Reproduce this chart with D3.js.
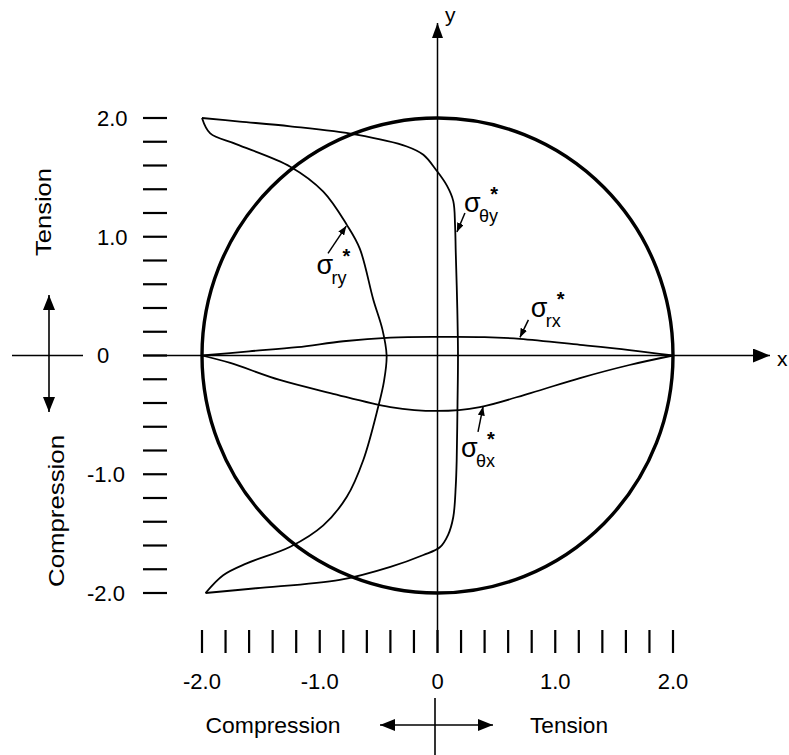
<!DOCTYPE html>
<html><head><meta charset="utf-8">
<script src="https://cdn.jsdelivr.net/npm/d3@7/dist/d3.min.js"></script>
<style>
body{margin:0;background:#fff}
svg{display:block}
text{font-family:"Liberation Sans",Arial,sans-serif;fill:#000}
</style>
</head><body>
<svg id="c" width="789" height="755"></svg>
<script>
// ---------- data ----------
const minorTicks = [-2.0,-1.8,-1.6,-1.4,-1.2,-1.0,-0.8,-0.6,-0.4,-0.2,0,0.2,0.4,0.6,0.8,1.0,1.2,1.4,1.6,1.8,2.0];
const tickValues = [-2, -1, 0, 1, 2];
const xTickLabels = ["-2.0", "-1.0", "0", "1.0", "2.0"];
const yTickLabels = ["-2.0", "-1.0", "0", "1.0", "2.0"];
const circleRadius = 2.0;

// sigma*_theta_y : position along y, stress value (x)
const thetaYPos = [2.0, 1.97, 1.93, 1.86, 1.76, 1.69, 1.56, 1.43, 1.30, 1.10, 0.87, 0.40, 0.0, -0.40, -0.88, -1.10, -1.36, -1.51, -1.615, -1.68, -1.78, -1.89, -1.96, -2.0];
const thetaYVal = [-2.0, -1.68, -1.25, -0.69, -0.26, -0.12, -0.01, 0.08, 0.134, 0.149, 0.155, 0.168, 0.174, 0.170, 0.163, 0.155, 0.134, 0.09, 0.02, -0.12, -0.40, -0.83, -1.54, -1.97];

// sigma*_r_y
const rYPos = [2.0, 1.87, 1.78, 1.59, 1.38, 1.10, 0.90, 0.47, 0.22, 0.0, -0.22, -0.43, -0.88, -1.19, -1.43, -1.61, -1.75, -1.85, -2.0];
const rYVal = [-2.0, -1.93, -1.71, -1.25, -0.97, -0.77, -0.66, -0.545, -0.468, -0.432, -0.455, -0.503, -0.63, -0.77, -0.97, -1.25, -1.62, -1.82, -1.97];

// sigma*_r_x : position along x, stress value (y)
const rXPos = [-2.0, -1.6, -1.19, -0.8, -0.4, 0.0, 0.4, 0.70, 1.21, 1.63, 2.0];
const rXVal = [0.0, 0.035, 0.07, 0.12, 0.15, 0.157, 0.155, 0.14, 0.09, 0.046, 0.0];

// sigma*_theta_x
const thetaXPos = [-2.0, -1.76, -1.34, -0.91, -0.40, 0.0, 0.36, 0.79, 1.21, 1.63, 2.0];
const thetaXVal = [0.0, -0.063, -0.206, -0.316, -0.434, -0.467, -0.434, -0.316, -0.19, -0.08, 0.0];

// annotation anchors (data units): label position, arrow tail, arrow tip
const annSub = ["ry", "θy", "rx", "θx"];
const annLabel = [[-1.02, 0.69], [0.234, 1.21], [0.80, 0.324], [0.208, -0.855]];
const annTail = [[-0.93, 0.86], [0.233, 1.20], [0.772, 0.30], [0.344, -0.644]];
const annTip  = [[-0.775, 1.09], [0.165, 1.04], [0.70, 0.152], [0.387, -0.43]];

// ---------- drawing ----------
const svg = d3.select("#c");
const x = d3.scaleLinear().domain([-2, 2]).range([202, 673]);
const y = d3.scaleLinear().domain([-2, 2]).range([593, 118]);

const defs = svg.append("defs");
function marker(id, len, half) {
  defs.append("marker").attr("id", id)
    .attr("viewBox", `0 ${-half} ${len} ${2*half}`)
    .attr("refX", len).attr("refY", 0)
    .attr("markerWidth", len).attr("markerHeight", 2*half)
    .attr("markerUnits", "userSpaceOnUse")
    .attr("orient", "auto-start-reverse")
    .append("path").attr("d", `M0,${-half}L${len},0L0,${half}Z`).attr("fill", "#000");
}
marker("axArrow", 17, 7);
marker("yArrow", 15, 5.5);
marker("indArrow", 15, 6);
marker("smArrow", 9, 3.5);

// circle
svg.append("ellipse")
  .attr("cx", x(0)).attr("cy", y(0))
  .attr("rx", x(circleRadius) - x(0)).attr("ry", y(0) - y(circleRadius))
  .attr("fill", "none").attr("stroke", "#000").attr("stroke-width", 3.4);

// axes lines
svg.append("line").attr("x1", 143).attr("x2", 770).attr("y1", y(0)).attr("y2", y(0))
  .attr("stroke", "#000").attr("stroke-width", 1.6).attr("marker-end", "url(#axArrow)");
svg.append("line").attr("x1", x(0)).attr("x2", x(0)).attr("y1", 653).attr("y2", 23)
  .attr("stroke", "#000").attr("stroke-width", 1.5).attr("marker-end", "url(#yArrow)");
svg.append("text").attr("x", 445).attr("y", 22).attr("font-size", 21).text("y");
svg.append("text").attr("x", 777).attr("y", 366).attr("font-size", 21).text("x");

// left ticks
svg.append("g").selectAll("line").data(minorTicks).join("line")
  .attr("x1", 143).attr("x2", 167).attr("y1", d => y(d)).attr("y2", d => y(d))
  .attr("stroke", "#000").attr("stroke-width", 2.2);
svg.append("g").selectAll("text").data(tickValues).join("text")
  .attr("x", (d, i) => yTickLabels[i].startsWith("-") ? 87 : 97)
  .attr("y", d => y(d)).attr("dy", "0.36em")
  .attr("font-size", 22)
  .text((d, i) => yTickLabels[i]);

// bottom ticks
svg.append("g").selectAll("line").data(minorTicks).join("line")
  .attr("x1", d => x(d)).attr("x2", d => x(d)).attr("y1", 630).attr("y2", 653)
  .attr("stroke", "#000").attr("stroke-width", 2.2);
svg.append("g").selectAll("text").data(tickValues).join("text")
  .attr("x", d => x(d)).attr("y", 689).attr("text-anchor", "middle")
  .attr("font-size", 22)
  .text((d, i) => xTickLabels[i]);

// curves
const line = d3.line().curve(d3.curveCatmullRom.alpha(0.5));
const curveStyle = sel => sel.attr("fill", "none").attr("stroke", "#000").attr("stroke-width", 1.8).attr("stroke-linejoin", "round");
svg.append("path").attr("d", line(thetaYPos.map((p, i) => [x(thetaYVal[i]), y(p)]))).call(curveStyle);
svg.append("path").attr("d", line(rYPos.map((p, i) => [x(rYVal[i]), y(p)]))).call(curveStyle);
svg.append("path").attr("d", line(rXPos.map((p, i) => [x(p), y(rXVal[i])]))).call(curveStyle);
svg.append("path").attr("d", line(thetaXPos.map((p, i) => [x(p), y(thetaXVal[i])]))).call(curveStyle);

// annotations
annSub.forEach((s, i) => {
  const lx = x(annLabel[i][0]), ly = y(annLabel[i][1]);
  const g = svg.append("g");
  g.append("text").attr("x", lx - 1).attr("y", ly).attr("font-size", 27).text("σ");
  g.append("text").attr("x", lx + 29).attr("y", ly - 11).attr("font-size", 20)
    .attr("text-anchor", "middle").attr("font-weight", "bold").text("*");
  g.append("text").attr("x", lx + 14).attr("y", ly + 10).attr("font-size", 18).text(s);
  svg.append("line")
    .attr("x1", x(annTail[i][0])).attr("y1", y(annTail[i][1]))
    .attr("x2", x(annTip[i][0])).attr("y2", y(annTip[i][1]))
    .attr("stroke", "#000").attr("stroke-width", 1.5).attr("marker-end", "url(#smArrow)");
});

// left indicator (tension / compression)
svg.append("line").attr("x1", 12).attr("x2", 83).attr("y1", y(0)).attr("y2", y(0))
  .attr("stroke", "#000").attr("stroke-width", 1.6);
svg.append("line").attr("x1", 49).attr("x2", 49).attr("y1", 412).attr("y2", 295)
  .attr("stroke", "#000").attr("stroke-width", 1.6)
  .attr("marker-start", "url(#indArrow)").attr("marker-end", "url(#indArrow)");
svg.append("text").attr("transform", "translate(51,212) rotate(-90)")
  .attr("text-anchor", "middle").attr("font-size", 22)
  .attr("textLength", 88).attr("lengthAdjust", "spacingAndGlyphs").text("Tension");
svg.append("text").attr("transform", "translate(64,511) rotate(-90)")
  .attr("text-anchor", "middle").attr("font-size", 22)
  .attr("textLength", 152).attr("lengthAdjust", "spacingAndGlyphs").text("Compression");

// bottom indicator
svg.append("line").attr("x1", 435).attr("x2", 435).attr("y1", 698).attr("y2", 755)
  .attr("stroke", "#000").attr("stroke-width", 1.6);
svg.append("line").attr("x1", 380).attr("x2", 493).attr("y1", 725).attr("y2", 725)
  .attr("stroke", "#000").attr("stroke-width", 1.6)
  .attr("marker-start", "url(#indArrow)").attr("marker-end", "url(#indArrow)");
svg.append("text").attr("x", 273).attr("y", 733).attr("text-anchor", "middle")
  .attr("font-size", 22).attr("textLength", 135).attr("lengthAdjust", "spacingAndGlyphs").text("Compression");
svg.append("text").attr("x", 569).attr("y", 733).attr("text-anchor", "middle")
  .attr("font-size", 22).attr("textLength", 78).attr("lengthAdjust", "spacingAndGlyphs").text("Tension");
</script>
</body></html>
